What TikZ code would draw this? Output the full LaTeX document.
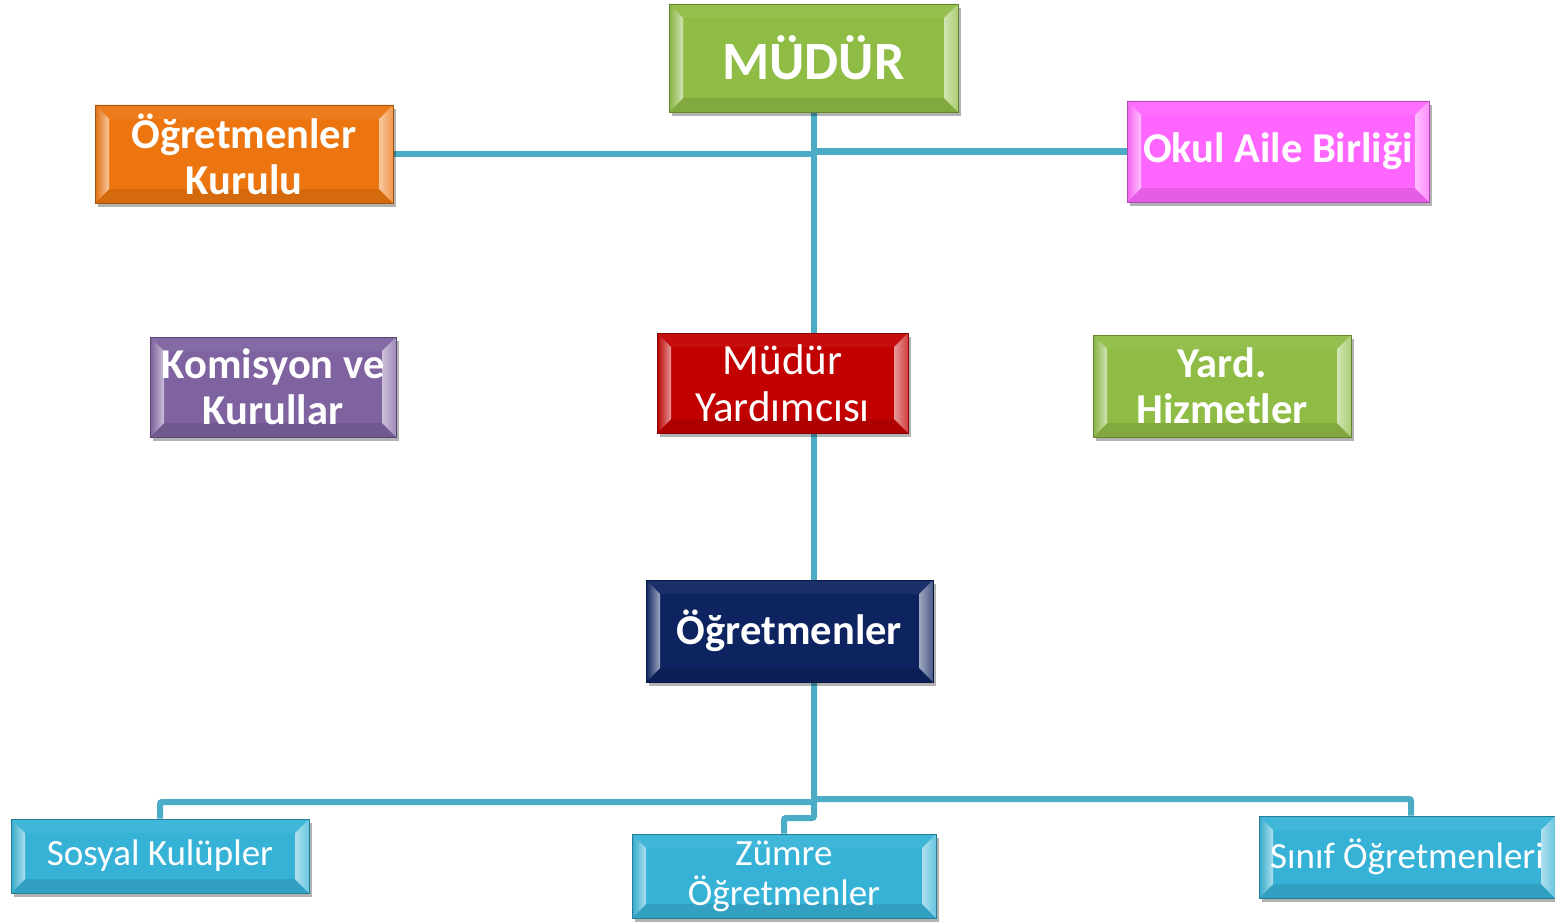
\documentclass[tikz,border=0pt]{standalone}
\usepackage{fontspec}
\setmainfont{Carlito}
\usetikzlibrary{shadows,backgrounds,calc}
\definecolor{cgreen}{HTML}{8FBC45}
\definecolor{corange}{HTML}{EC7510}
\definecolor{cpink}{HTML}{FF66FF}
\definecolor{cpurple}{HTML}{7E63A0}
\definecolor{cred}{HTML}{C20000}
\definecolor{cnavy}{HTML}{0E2461}
\definecolor{cblue}{HTML}{36B2D6}
\definecolor{cline}{HTML}{4BACC6}
\tikzset{
  bx/.style={fill=#1, draw=#1!70!black, line width=0.8pt, text=white, align=center, inner sep=0pt,
    drop shadow={shadow xshift=3pt, shadow yshift=-4pt, opacity=0.3, fill=black},
    path picture={
      \fill[#1!95!white] (path picture bounding box.north west) -- ([xshift=14pt,yshift=-14pt]path picture bounding box.north west) -- ([xshift=-14pt,yshift=-14pt]path picture bounding box.north east) -- (path picture bounding box.north east) -- cycle;
      \fill[#1!90!black] (path picture bounding box.south west) -- ([xshift=14pt,yshift=14pt]path picture bounding box.south west) -- ([xshift=-14pt,yshift=14pt]path picture bounding box.south east) -- (path picture bounding box.south east) -- cycle;
      \fill[left color=#1!95!black, right color=#1!40!white] (path picture bounding box.south west) -- (path picture bounding box.north west) -- ([xshift=14pt,yshift=-14pt]path picture bounding box.north west) -- ([xshift=14pt,yshift=14pt]path picture bounding box.south west) -- cycle;
      \fill[left color=#1!40!white, right color=#1!75!white] (path picture bounding box.south east) -- (path picture bounding box.north east) -- ([xshift=-14pt,yshift=-14pt]path picture bounding box.north east) -- ([xshift=-14pt,yshift=14pt]path picture bounding box.south east) -- cycle;
    }},
  bfont/.style={font=\fontsize{42.5}{46}\selectfont\bfseries},
  rfont/.style={font=\fontsize{43}{47}\selectfont},
  sfont/.style={font=\fontsize{37}{40}\selectfont},
  conn/.style={draw=cline, line width=6pt, rounded corners=2pt},
}
\begin{document}
\begin{tikzpicture}[x=1pt,y=-1pt]
\useasboundingbox (0,0) rectangle (1555,923);
\node[bx=cgreen, minimum width=289pt, minimum height=108pt, font=\fontsize{54}{60}\selectfont\bfseries] (mudur) at (813.5,58) {MÜDÜR};
\node[bx=corange, bfont, minimum width=298pt, minimum height=98pt] (ogk) at (244,154) {Öğretmenler\\Kurulu};
\node[bx=cpink, bfont, minimum width=302pt, minimum height=101pt] (oab) at (1278,151.5) {Okul Aile Birliği};
\node[bx=cpurple, bfont, minimum width=246pt, minimum height=100pt] (kom) at (273,387) {Komisyon ve\\Kurullar};
\node[bx=cred, rfont, minimum width=251pt, minimum height=100pt] (my) at (782.5,383) {Müdür\\Yardımcısı};
\node[bx=cgreen, bfont, minimum width=258pt, minimum height=102pt] (yh) at (1222,386) {Yard.\\Hizmetler};
\node[bx=cnavy, bfont, minimum width=287pt, minimum height=102pt] (ogr) at (789.5,631) {Öğretmenler};
\node[bx=cblue, sfont, minimum width=298pt, minimum height=74pt] (sk) at (160,856) {Sosyal Kulüpler};
\node[bx=cblue, sfont, minimum width=304pt, minimum height=84pt] (zo) at (784,876) {Zümre\\Öğretmenler};
\node[bx=cblue, sfont, minimum width=296pt, minimum height=82pt] (so) at (1407,857) {Sınıf Öğretmenleri};
\coordinate (vx) at (814,0);
\coordinate (b1) at (814,802);
\coordinate (b2) at (814,799);
\coordinate (b3) at (814,818);
\coordinate (b4) at (784,818);
\coordinate (b5) at (1411,799);
\begin{scope}[on background layer]
\draw[conn] (vx |- mudur.south) -- (vx |- my.north);
\draw[conn] (ogk.east) -- (ogk.east -| vx);
\draw[conn] (oab.west) -- (oab.west -| vx);
\draw[conn] (vx |- my.south) -- (vx |- ogr.north);
\draw[conn] (vx |- ogr.south) -- (b3) -- (b4) -- (zo.north);
\draw[conn] (b1) -- (sk.north |- b1) -- (sk.north);
\draw[conn] (b2) -- (b5) -- (b5 |- so.north);
\end{scope}
\end{tikzpicture}
\end{document}
